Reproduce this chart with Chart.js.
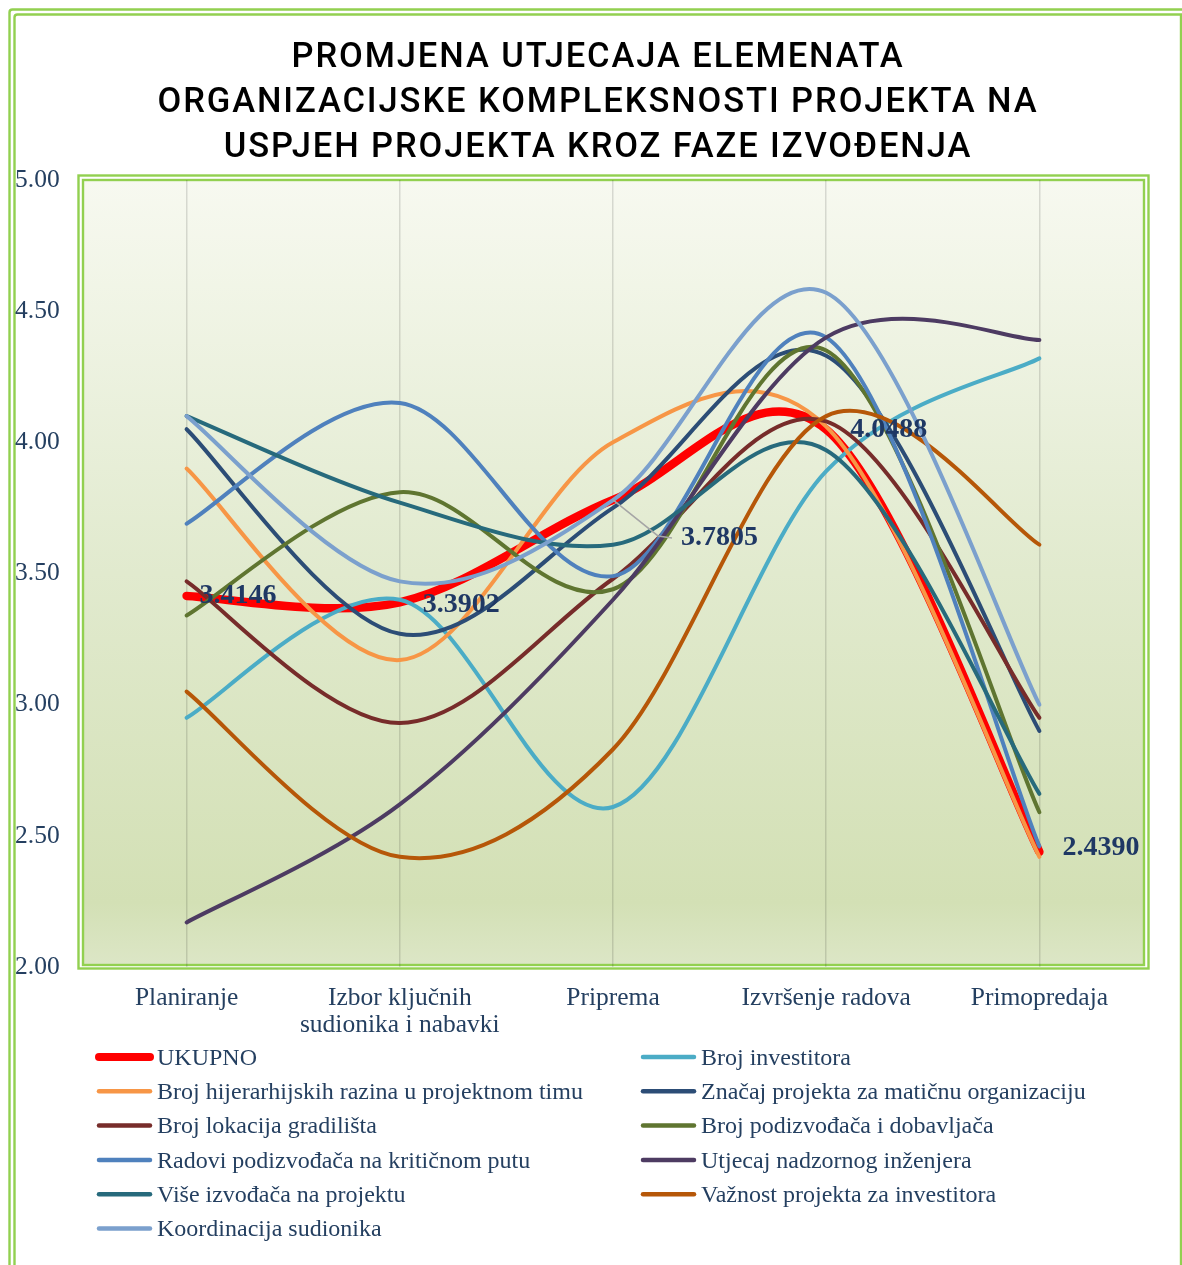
<!DOCTYPE html>
<html>
<head>
<meta charset="utf-8">
<script src="https://cdn.jsdelivr.net/npm/chart.js"></script>
<style>
  html, body { margin: 0; padding: 0; background: #fff; }
  #wrap { width: 1182px; height: 1265px; }
</style>
</head>
<body>
<div id="wrap"><canvas id="chart"></canvas></div>
<script>
const titleLines = [
  'PROMJENA UTJECAJA ELEMENATA',
  'ORGANIZACIJSKE KOMPLEKSNOSTI PROJEKTA NA',
  'USPJEH PROJEKTA KROZ FAZE IZVOĐENJA'
];
const phases = ['Planiranje', ['Izbor ključnih', 'sudionika i nabavki'], 'Priprema', 'Izvršenje radova', 'Primopredaja'];
const yMin = 2, yMax = 5, yStep = 0.5;

const ukupno            = [3.4146, 3.3902, 3.7805, 4.0488, 2.4390];
const brojInvestitora   = [2.95, 3.40, 2.61, 3.89, 4.32];
const brojRazina        = [3.90, 3.17, 4.00, 4.06, 2.42];
const znacajProjekta    = [4.05, 3.27, 3.75, 4.33, 2.90];
const brojLokacija      = [3.47, 2.93, 3.48, 4.08, 2.95];
const brojPodizvodaca   = [3.34, 3.81, 3.44, 4.35, 2.59];
const radoviPodizvodaca = [3.69, 4.15, 3.49, 4.40, 2.46];
const utjecajNadzornog  = [2.17, 2.62, 3.40, 4.40, 4.39];
const viseIzvodaca      = [4.10, 3.77, 3.61, 3.97, 2.66];
const vaznostProjekta   = [3.05, 2.42, 2.83, 4.10, 3.61];
const koordinacija      = [4.10, 3.47, 3.78, 4.57, 3.00];

const navy = '#243F60';
const serif = '"Liberation Serif", "Times New Roman", serif';

function line(label, data, color, width) {
  return {
    label: label, data: data,
    borderColor: color, backgroundColor: color,
    borderWidth: width || 4,
    borderCapStyle: 'round', borderJoinStyle: 'round',
    tension: 0.35, pointRadius: 0, pointHoverRadius: 0, fill: false
  };
}

const datasets = [
  line('UKUPNO', ukupno, '#FF0000', 8.5),
  line('Broj investitora', brojInvestitora, '#4BACC6'),
  line('Broj hijerarhijskih razina u projektnom timu', brojRazina, '#F79646'),
  line('Značaj projekta za matičnu organizaciju', znacajProjekta, '#2C4D76'),
  line('Broj lokacija gradilišta', brojLokacija, '#772C2A'),
  line('Broj podizvođača i dobavljača', brojPodizvodaca, '#5F7530'),
  line('Radovi podizvođača na kritičnom putu', radoviPodizvodaca, '#4F81BD'),
  line('Utjecaj nadzornog inženjera', utjecajNadzornog, '#4D3B62'),
  line('Više izvođača na projektu', viseIzvodaca, '#276A7C'),
  line('Važnost projekta za investitora', vaznostProjekta, '#B65708'),
  line('Koordinacija sudionika', koordinacija, '#7BA0CD')
];
// first series at the bottom, last on top (like Excel)
datasets.forEach((d, i) => { d.order = datasets.length - i; });

// Excel-like smoothing: uniform Catmull-Rom control points (1/6 of neighbour span)
const excelSmooth = {
  id: 'excelSmooth',
  beforeDatasetsDraw(chart) {
    chart.data.datasets.forEach((d, di) => {
      const meta = chart.getDatasetMeta(di);
      const pts = meta.data, n = pts.length;
      pts.forEach((p, i) => {
        const prev = pts[Math.max(i - 1, 0)], next = pts[Math.min(i + 1, n - 1)];
        const dx = (next.x - prev.x) / 6, dy = (next.y - prev.y) / 6;
        p.cp1x = p.x - dx; p.cp1y = p.y - dy;
        p.cp2x = p.x + dx; p.cp2y = p.y + dy;
      });
      meta.dataset._pointsUpdated = true;
      delete meta.dataset._path;
    });
  }
};

// frame, plot background and double border
const backdrop = {
  id: 'backdrop',
  beforeDraw(chart) {
    const ctx = chart.ctx, a = chart.chartArea;
    ctx.save();
    ctx.fillStyle = '#fff';
    ctx.fillRect(0, 0, chart.width, chart.height);
    ctx.strokeStyle = '#92D050';
    ctx.lineWidth = 2.4;
    [[9.5, 1186], [14.5, 1181]].forEach(([o, r]) => {
      ctx.beginPath();
      ctx.moveTo(o, chart.height + 10);
      ctx.lineTo(o, o + 3);
      ctx.quadraticCurveTo(o, o, o + 3, o);
      ctx.lineTo(r, o);
      ctx.lineTo(r, chart.height + 10);
      ctx.stroke();
    });

    const l = a.left + 3, t = a.top, r = a.right - 2, b = a.bottom - 2;
    const g = ctx.createLinearGradient(0, t, 0, b);
    g.addColorStop(0, '#F7F9F0');
    g.addColorStop(0.5, '#E1EACE');
    g.addColorStop(0.92, '#D3E0B5');
    g.addColorStop(1, '#DCE6C6');
    ctx.fillStyle = g;
    ctx.fillRect(l, t, r - l, b - t);
    ctx.strokeRect(l, t, r - l, b - t);
    ctx.strokeRect(l - 4.5, t - 4.5, r - l + 9, b - t + 8);
    ctx.restore();
  }
};

const titleText = {
  id: 'titleText',
  afterDraw(chart) {
    const ctx = chart.ctx;
    ctx.save();
    ctx.font = '500 34.5px Roboto, "DejaVu Sans", sans-serif';
    ctx.letterSpacing = '1.9px';
    ctx.fillStyle = '#000';
    ctx.textAlign = 'center';
    ctx.textBaseline = 'middle';
    titleLines.forEach((s, i) => ctx.fillText(s, 598, 58 + i * 45));
    ctx.restore();
  }
};

// value labels of the UKUPNO series
const labelShift = [[13, 0], [23, 2], [68, 38], [24, 0], [23, -4]];
const valueLabels = {
  id: 'valueLabels',
  afterDatasetsDraw(chart) {
    const ctx = chart.ctx;
    const pts = chart.getDatasetMeta(0).data;
    ctx.save();
    ctx.font = 'bold 28px ' + serif;
    ctx.fillStyle = '#1F3864';
    ctx.textAlign = 'left';
    ctx.textBaseline = 'middle';
    pts.forEach((p, i) => {
      const [dx, dy] = labelShift[i];
      if (dy > 20) {
        ctx.strokeStyle = '#A6A6A6';
        ctx.lineWidth = 1.5;
        ctx.beginPath();
        ctx.moveTo(p.x, p.y);
        ctx.lineTo(p.x + dx - 23, p.y + dy - 2);
        ctx.lineTo(p.x + dx - 9, p.y + dy);
        ctx.stroke();
      }
      ctx.fillText(ukupno[i].toFixed(4), p.x + dx, p.y + dy);
    });
    ctx.restore();
  }
};

// two-column legend, filled row by row
const legendBox = {
  id: 'legendBox',
  afterDraw(chart) {
    const ctx = chart.ctx;
    ctx.save();
    ctx.font = '24px ' + serif;
    ctx.textBaseline = 'middle';
    ctx.lineCap = 'round';
    chart.data.datasets.forEach((d, i) => {
      const col = i % 2, row = Math.floor(i / 2);
      const x = col ? 641 : 97, y = 1057 + row * 34.3;
      ctx.strokeStyle = d.borderColor;
      ctx.lineWidth = i === 0 ? 8 : 4.5;
      ctx.beginPath();
      ctx.moveTo(x + 2, y);
      ctx.lineTo(x + 53, y);
      ctx.stroke();
      ctx.fillStyle = navy;
      ctx.fillText(d.label, x + 60, y + 1.5);
    });
    ctx.restore();
  }
};

new Chart(document.getElementById('chart'), {
  type: 'line',
  data: { labels: phases, datasets: datasets },
  options: {
    responsive: true,
    maintainAspectRatio: false,
    animation: false,
    layout: { padding: { top: 180, left: 15, right: 36, bottom: 220 } },
    plugins: { legend: { display: false }, title: { display: false }, tooltip: { enabled: false } },
    scales: {
      x: {
        offset: true,
        grid: { offset: false, color: 'rgba(0,0,0,0.13)', lineWidth: 1.5, drawTicks: false },
        border: { display: false },
        ticks: { color: navy, font: { family: serif, size: 25.5, lineHeight: 1.06 }, padding: 18, maxRotation: 0, autoSkip: false },
        afterFit(s) { s.height = 78; }
      },
      y: {
        min: yMin, max: yMax,
        grid: { display: false },
        border: { display: false },
        ticks: {
          stepSize: yStep, color: navy, crossAlign: 'far',
          font: { family: serif, size: 25.5 },
          callback: v => v.toFixed(2)
        },
        afterFit(s) { s.width = 65; }
      }
    }
  },
  plugins: [backdrop, excelSmooth, titleText, valueLabels, legendBox]
});
</script>
</body>
</html>
